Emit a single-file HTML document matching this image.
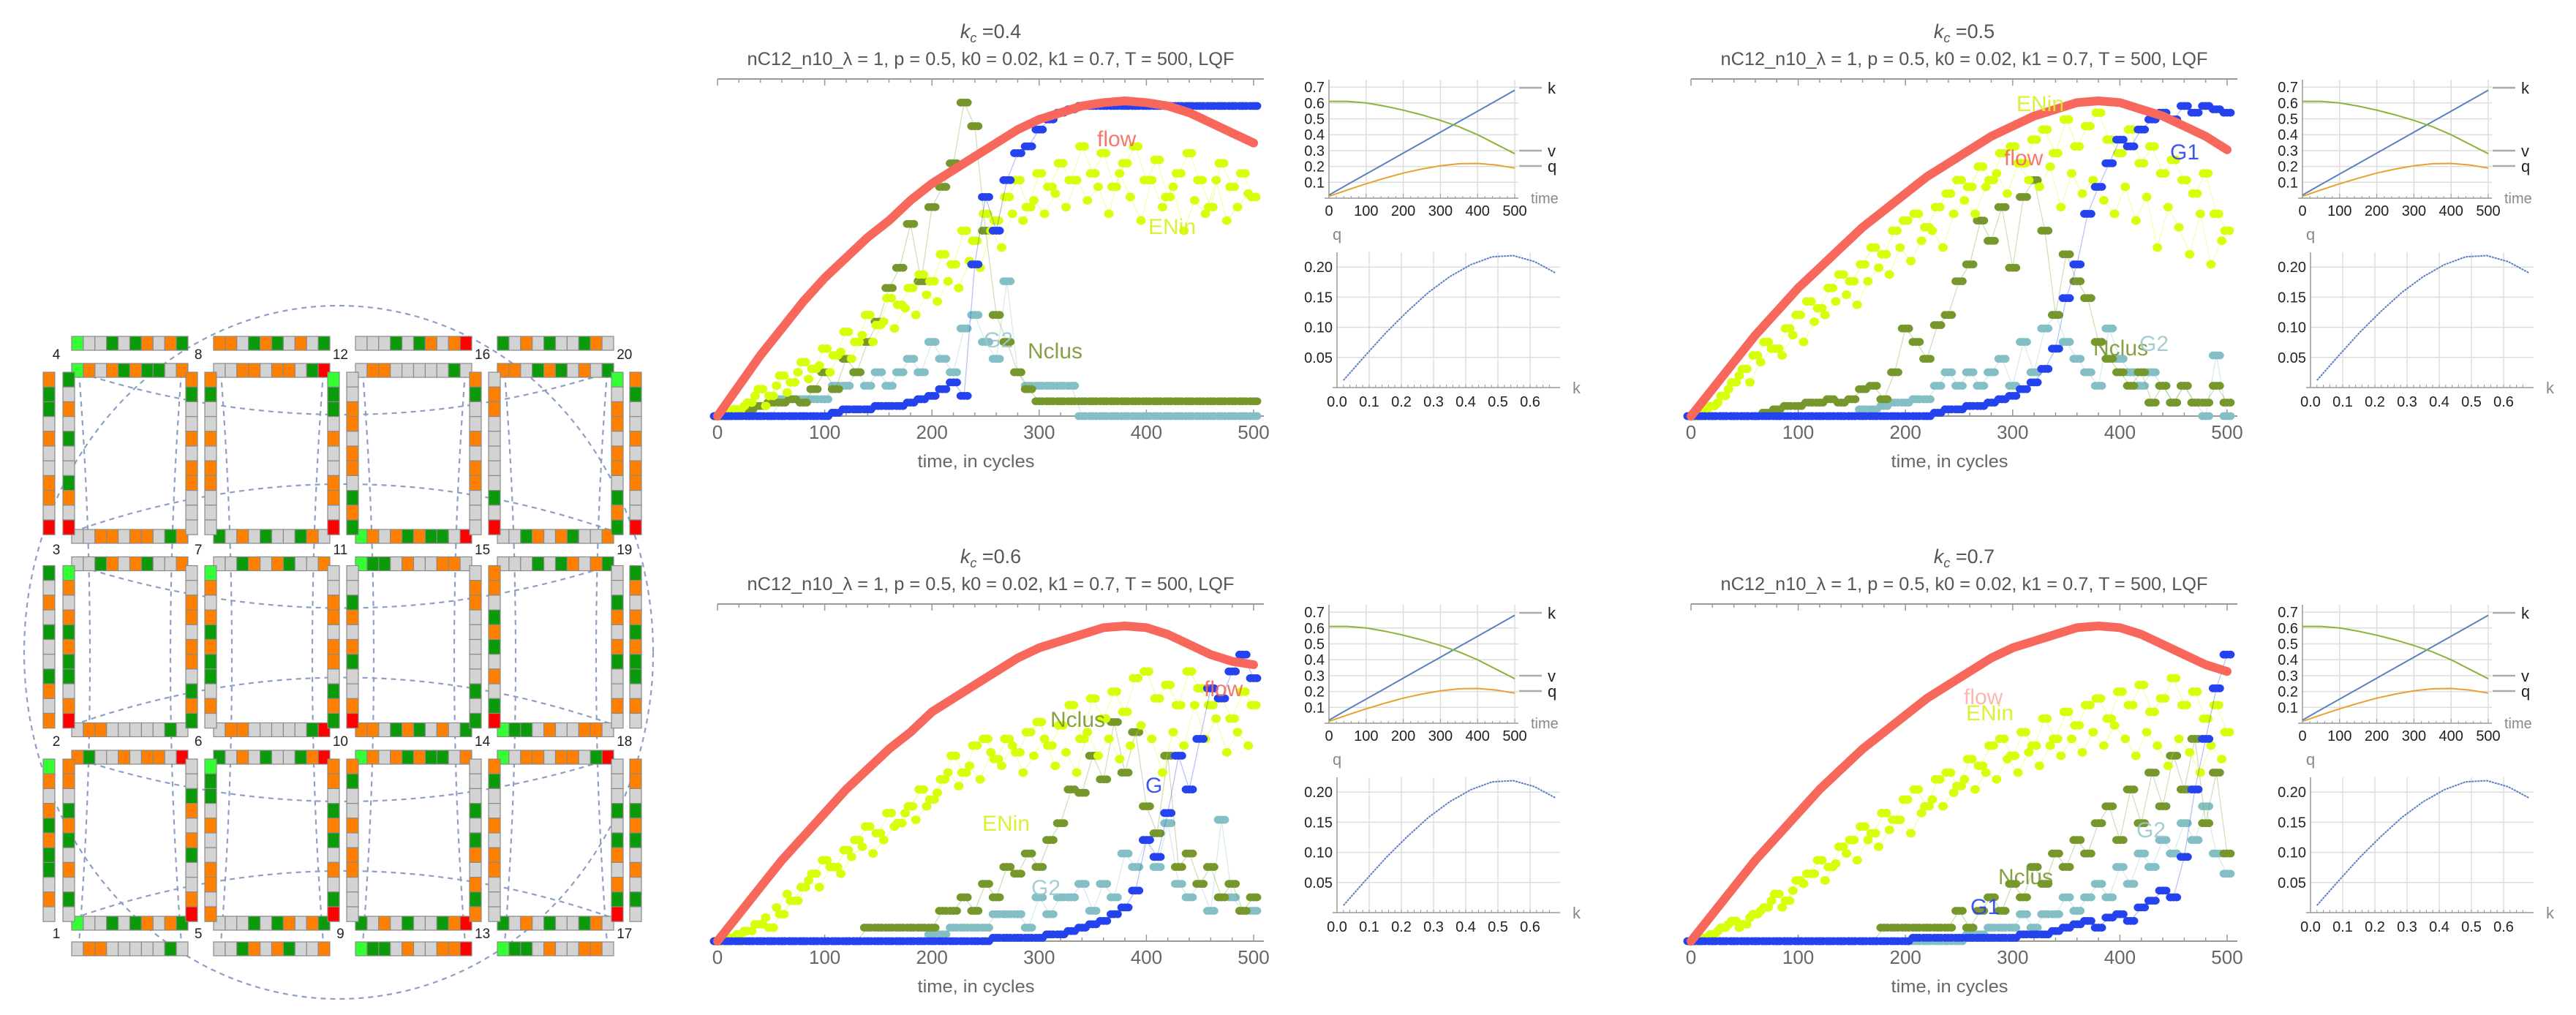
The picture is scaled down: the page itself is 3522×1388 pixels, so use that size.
<!DOCTYPE html>
<html><head><meta charset="utf-8">
<style>
html,body{margin:0;padding:0;background:#fff;}
svg{display:block;font-family:"Liberation Sans",sans-serif;}
</style></head>
<body>
<svg id="root" width="3522" height="1388" viewBox="0 0 3522 1388" xmlns="http://www.w3.org/2000/svg"></svg>
<script>
// ===== chart data (values in normalized plot-height units, t step 10 unless noted) =====
const timeTicks = [0,100,200,300,400,500];
const kcLabels = ["0.4","0.5","0.6","0.7"];
// flow (step 20)
const flow1 = [0,0.09,0.18,0.26,0.34,0.41,0.47,0.53,0.58,0.64,0.69,0.73,0.77,0.81,0.85,0.88,0.90,0.92,0.93,0.935,0.93,0.92,0.90,0.87,0.84,0.81];
const flow2 = [0,0.08,0.16,0.24,0.31,0.38,0.44,0.5,0.56,0.61,0.66,0.71,0.75,0.79,0.83,0.86,0.89,0.91,0.93,0.935,0.93,0.91,0.89,0.86,0.83,0.79];
const flow3 = [0,0.08,0.16,0.24,0.31,0.38,0.45,0.51,0.57,0.62,0.68,0.72,0.76,0.8,0.84,0.87,0.89,0.91,0.93,0.935,0.93,0.91,0.88,0.85,0.83,0.82];
const flow4 = [0,0.08,0.16,0.24,0.31,0.38,0.45,0.51,0.57,0.62,0.67,0.72,0.76,0.8,0.84,0.87,0.89,0.91,0.93,0.935,0.93,0.91,0.88,0.85,0.82,0.8];
// G1
const g1_1 = [0,0,0,0,0,0,0,0,0,0,0,0.01,0.02,0.02,0.02,0.03,0.03,0.03,0.04,0.05,0.06,0.08,0.1,0.06,0.45,0.65,0.55,0.7,0.78,0.8,0.85,0.88,0.9,0.91,0.92,0.92,0.92,0.92,0.92,0.92,0.92,0.92,0.92,0.92,0.92,0.92,0.92,0.92,0.92,0.92,0.92];
const g1_2 = [0,0,0,0,0,0,0,0,0,0,0,0,0,0,0,0,0,0,0,0,0,0,0,0.01,0.02,0.02,0.03,0.03,0.04,0.05,0.06,0.08,0.1,0.14,0.2,0.35,0.45,0.6,0.68,0.75,0.82,0.8,0.85,0.88,0.9,0.88,0.92,0.9,0.92,0.91,0.9];
const g1_3 = [0,0,0,0,0,0,0,0,0,0,0,0,0,0,0,0,0,0,0,0,0,0,0,0,0,0,0.01,0.01,0.01,0.01,0.01,0.02,0.02,0.03,0.04,0.05,0.06,0.08,0.1,0.15,0.3,0.25,0.38,0.55,0.45,0.6,0.75,0.72,0.8,0.85,0.78];
const g1_4 = [0,0,0,0,0,0,0,0,0,0,0,0,0,0,0,0,0,0,0,0,0,0.01,0.01,0.01,0.01,0.01,0.01,0.01,0.01,0.01,0.01,0.02,0.02,0.02,0.03,0.04,0.05,0.06,0.04,0.07,0.08,0.06,0.1,0.12,0.15,0.13,0.25,0.45,0.6,0.75,0.85];
// Nclus
const nclus1 = [0,0,0.01,0.02,0.03,0.04,0.04,0.05,0.04,0.08,0.13,0.08,0.17,0.13,0.22,0.28,0.38,0.44,0.57,0.4,0.62,0.68,0.75,0.93,0.86,0.55,0.3,0.22,0.13,0.08,0.044,0.044,0.044,0.044,0.044,0.044,0.044,0.044,0.044,0.044,0.044,0.044,0.044,0.044,0.044,0.044,0.044,0.044,0.044,0.044,0.044];
const nclus2 = [0,0,0,0,0,0,0,0.01,0.02,0.03,0.03,0.04,0.04,0.05,0.04,0.05,0.08,0.09,0.05,0.13,0.26,0.22,0.17,0.27,0.3,0.4,0.45,0.58,0.52,0.62,0.44,0.65,0.7,0.55,0.3,0.48,0.4,0.35,0.22,0.17,0.13,0.09,0.13,0.04,0.09,0.04,0.09,0.04,0.04,0.09,0.04];
const nclus3 = [0,0,0,0,0,0,0,0,0,0,0,0,0,0,0.04,0.04,0.04,0.04,0.04,0.04,0.04,0.09,0.09,0.13,0.09,0.17,0.13,0.22,0.2,0.26,0.22,0.3,0.35,0.45,0.44,0.55,0.48,0.65,0.5,0.62,0.4,0.32,0.55,0.22,0.26,0.17,0.22,0.13,0.17,0.09,0.13];
const nclus4 = [0,0,0,0,0,0,0,0,0,0,0,0,0,0,0,0,0,0,0.04,0.04,0.04,0.04,0.04,0.04,0.04,0.09,0.04,0.09,0.13,0.09,0.17,0.13,0.22,0.17,0.26,0.22,0.3,0.26,0.35,0.4,0.3,0.45,0.35,0.5,0.4,0.55,0.45,0.6,0.35,0.5,0.26];
// G2
const g2_1 = [0,0,0,0,0,0,0.05,0.05,0.05,0.05,0.05,0.09,0.09,0.13,0.09,0.13,0.09,0.13,0.17,0.13,0.22,0.17,0.13,0.26,0.3,0.22,0.17,0.4,0.13,0.09,0.09,0.09,0.09,0.09,0,0,0,0,0,0,0,0,0,0,0,0,0,0,0,0,0];
const g2_2 = [0,0,0,0,0,0,0,0,0,0,0,0,0,0,0,0,0.02,0.02,0.03,0.04,0.04,0.05,0.05,0.09,0.13,0.09,0.13,0.09,0.13,0.17,0.09,0.22,0.13,0.26,0.3,0.22,0.17,0.13,0.09,0.26,0.17,0.13,0.09,0.13,0.09,0.04,0.09,0.04,0,0.18,0];
const g2_3 = [0,0,0,0,0,0,0,0,0,0,0,0,0,0,0,0,0,0,0,0,0.02,0.02,0.04,0.04,0.04,0.04,0.08,0.08,0.08,0.04,0.13,0.08,0.13,0.13,0.17,0.09,0.17,0.13,0.26,0.22,0.3,0.22,0.35,0.17,0.13,0.17,0.09,0.36,0.13,0.09,0.09];
const g2_4 = [0,0,0,0,0,0,0,0,0,0,0,0,0,0,0,0,0,0,0,0,0,0,0,0,0,0,0.02,0.02,0.04,0.04,0.04,0.08,0.04,0.08,0.08,0.13,0.09,0.13,0.17,0.13,0.22,0.17,0.26,0.22,0.3,0.26,0.35,0.3,0.4,0.26,0.2];
// ENin (A at t=0,10..; B at t=5,15..)
const enA1 = [0,0.01,0.02,0.04,0.08,0.06,0.12,0.1,0.16,0.14,0.2,0.18,0.25,0.22,0.3,0.27,0.35,0.33,0.38,0.42,0.4,0.48,0.45,0.55,0.52,0.6,0.58,0.65,0.7,0.62,0.72,0.68,0.75,0.7,0.8,0.72,0.78,0.68,0.75,0.8,0.7,0.76,0.65,0.72,0.78,0.7,0.62,0.75,0.68,0.72,0.65];
const enB1 = [0,0.02,0.03,0.06,0.03,0.09,0.07,0.13,0.11,0.15,0.13,0.19,0.17,0.24,0.22,0.28,0.26,0.32,0.3,0.36,0.34,0.4,0.38,0.46,0.44,0.55,0.5,0.6,0.58,0.64,0.6,0.66,0.62,0.7,0.64,0.68,0.6,0.72,0.65,0.58,0.7,0.62,0.68,0.55,0.64,0.6,0.7,0.58,0.62,0.66];
const enA2 = [0,0.01,0.03,0.06,0.1,0.14,0.18,0.22,0.2,0.26,0.3,0.34,0.32,0.38,0.42,0.4,0.45,0.5,0.48,0.55,0.58,0.6,0.56,0.62,0.66,0.7,0.68,0.74,0.7,0.78,0.8,0.75,0.82,0.85,0.78,0.88,0.8,0.86,0.9,0.82,0.78,0.85,0.75,0.8,0.72,0.76,0.7,0.66,0.72,0.6,0.55];
const enB2 = [0,0.02,0.04,0.08,0.12,0.1,0.16,0.2,0.18,0.24,0.22,0.28,0.3,0.34,0.36,0.33,0.4,0.44,0.42,0.5,0.46,0.52,0.55,0.5,0.6,0.64,0.6,0.68,0.72,0.66,0.75,0.7,0.68,0.74,0.62,0.72,0.66,0.7,0.64,0.6,0.68,0.58,0.65,0.5,0.62,0.56,0.48,0.6,0.45,0.52];
const enA3 = [0,0.01,0.02,0.03,0.05,0.04,0.08,0.12,0.16,0.2,0.24,0.22,0.27,0.3,0.34,0.32,0.38,0.35,0.4,0.45,0.42,0.48,0.55,0.5,0.58,0.6,0.54,0.6,0.56,0.62,0.65,0.58,0.64,0.7,0.6,0.72,0.66,0.74,0.68,0.78,0.8,0.72,0.76,0.7,0.8,0.75,0.7,0.72,0.66,0.74,0.7];
const enB3 = [0,0.01,0.03,0.05,0.07,0.1,0.14,0.12,0.18,0.16,0.22,0.2,0.25,0.28,0.26,0.3,0.34,0.38,0.36,0.4,0.44,0.5,0.46,0.52,0.48,0.56,0.52,0.58,0.5,0.55,0.6,0.52,0.56,0.5,0.62,0.55,0.6,0.54,0.58,0.64,0.6,0.5,0.62,0.58,0.7,0.6,0.66,0.56,0.62,0.58];
const enA4 = [0,0.01,0.02,0.04,0.06,0.05,0.08,0.1,0.14,0.12,0.18,0.2,0.24,0.22,0.28,0.3,0.34,0.32,0.38,0.36,0.42,0.45,0.4,0.48,0.5,0.46,0.54,0.52,0.58,0.6,0.55,0.62,0.58,0.66,0.6,0.68,0.64,0.7,0.72,0.66,0.74,0.7,0.76,0.68,0.72,0.78,0.7,0.74,0.66,0.7,0.62];
const enB4 = [0,0.01,0.03,0.05,0.04,0.07,0.09,0.12,0.1,0.15,0.17,0.2,0.18,0.23,0.26,0.24,0.3,0.28,0.33,0.36,0.32,0.38,0.42,0.4,0.44,0.48,0.45,0.5,0.48,0.54,0.5,0.56,0.52,0.58,0.55,0.6,0.56,0.62,0.58,0.64,0.6,0.55,0.62,0.58,0.52,0.6,0.56,0.5,0.58,0.54];
// small charts (t step 50)
const kVals = [0.02,0.086,0.152,0.218,0.284,0.35,0.416,0.482,0.548,0.614,0.68];
const vVals = [0.61,0.61,0.60,0.58,0.555,0.525,0.49,0.45,0.40,0.34,0.28];
const qVals = [0.012,0.052,0.091,0.126,0.158,0.184,0.204,0.217,0.219,0.209,0.19];
const smallYTicks = [0.1,0.2,0.3,0.4,0.5,0.6,0.7];
const qTicks = [0.05,0.10,0.15,0.20];
const kTicks = [0.0,0.1,0.2,0.3,0.4,0.5,0.6];

const NS = "http://www.w3.org/2000/svg";
const root = document.getElementById('root');
function mk(tag, attrs, parent, text){
  const e = document.createElementNS(NS, tag);
  for (const k in attrs) e.setAttribute(k, attrs[k]);
  if (text !== undefined) e.textContent = text;
  (parent||root).appendChild(e);
  return e;
}

// ================= left grid diagram =================
const gridG = mk('g', {});


const dash = {fill:'none', stroke:'#8d9fc4', 'stroke-width':2.2, 'stroke-dasharray':'7 6'};
mk('ellipse', Object.assign({cx:463, cy:892, rx:430, ry:474}, dash), gridG);
for (let r=0;r<3;r++){
  const y0 = 497 + 264.5*r;
  mk('path', Object.assign({d:`M100 ${y0+10} Q 470 ${y0+130} 840 ${y0+10}`}, dash), gridG);
  mk('path', Object.assign({d:`M100 ${y0+230} Q 470 ${y0+100} 840 ${y0+230}`}, dash), gridG);
}
for (let c=0;c<4;c++){
  const x0 = 98 + 194*c;
  mk('path', Object.assign({d:`M${x0+10} ${510} Q ${x0+40} 900 ${x0+10} 1290`}, dash), gridG);
  mk('path', Object.assign({d:`M${x0+150} ${510} Q ${x0+120} 900 ${x0+150} 1290`}, dash), gridG);
}
const pal = ['#d3d3d3','#d3d3d3','#0a9a0a','#ff8000','#d3d3d3','#ff8000','#0a9a0a','#d3d3d3','#ff8000'];
let stripId = 0;
function strip(x, y, n, horiz, cw, ch){
  stripId++;
  const g = mk('g', {}, gridG);
  
  
  for (let k=0;k<n;k++){
    let col = pal[(stripId*37 + k*11 + (k*k)%5 + stripId%7) % 9];
    if (k===n-1 && stripId%3===0) col = '#ff0000';
    if (k===0 && stripId%4===1) col = '#33ff33';
    const cx = horiz ? x + k*cw : x, cy = horiz ? y : y + k*ch;
    mk('rect', {x:cx, y:cy, width:cw, height:ch, fill:col, stroke:'#8a8a8a', 'stroke-width':1.2}, g);
  }
}
for (let c=0;c<4;c++){
  for (let r=0;r<3;r++){
    const x0 = 98 + 194*c, y0 = 497 + 264.5*r;
    strip(x0, y0, 10, true, 15.9, 19);
    strip(x0, y0+227, 10, true, 15.9, 19);
    strip(x0-12, y0+12, 11, false, 16, 20.2);
    strip(x0+156, y0+12, 11, false, 16, 20.2);
    if (r===0) strip(x0, 460, 10, true, 15.9, 19);
    if (r===2) strip(x0, 1288, 10, true, 15.9, 19);
    if (c===0) strip(59, y0+12, 11, false, 16, 20.2);
    if (c===3) strip(861, y0+12, 11, false, 16, 20.2);
  }
}
const nodeYs = [484, 751, 1013, 1276];
for (let c=0;c<5;c++){
  for (let r=0;r<4;r++){
    const t = mk('text', {x:77+194.2*c, y:nodeYs[r]+7, 'font-size':19, 'text-anchor':'middle', fill:'#222'}, gridG, String(c*4 + (4-r)));
    
    
  }
}

// ================= panels =================
const panels = [
  {flow:flow1, g1:g1_1, nclus:nclus1, g2:g2_1, enA:enA1, enB:enB1,
   labels:[['flow',1500,200,'#f8675c'],['ENin',1570,320,'#d8f020'],['Nclus',1405,490,'#78972e'],['G2',1345,475,'#9cc8cc']]},
  {flow:flow2, g1:g1_2, nclus:nclus2, g2:g2_2, enA:enA2, enB:enB2,
   labels:[['ENin',2757,152,'#d8f020'],['flow',2740,226,'#f8675c'],['G1',2967,218,'#2a45e8'],['Nclus',2862,486,'#78972e'],['G2',2925,480,'#9cc8cc']]},
  {flow:flow3, g1:g1_3, nclus:nclus3, g2:g2_3, enA:enA3, enB:enB3,
   labels:[['Nclus',1436,994,'#78972e'],['ENin',1343,1136,'#d8f020'],['G2',1410,1224,'#9cc8cc'],['G',1566,1084,'#2a45e8'],['flow',1646,952,'#f8675c']]},
  {flow:flow4, g1:g1_4, nclus:nclus4, g2:g2_4, enA:enA4, enB:enB4,
   labels:[['flow',2685,963,'#f9b0aa'],['ENin',2688,985,'#d8f020'],['Nclus',2732,1209,'#78972e'],['G1',2694,1250,'#2a45e8'],['G2',2921,1145,'#9cc8cc']]}
];

function drawPanel(p, idx){
  const dx = 1331*(idx%2), dy = 718*Math.floor(idx/2);
  const g = mk('g', {});
  
  
  const X0 = 981+dx, X1 = 1714+dx, FR = 1728+dx, Ytop = 108+dy, Ybase = 569+dy;
  const xs = t => X0 + t*(X1-X0)/500;
  const ys = v => Ybase - v*461;
  const cx = (X0+FR)/2;
  const tt = mk('text', {x:cx, y:52+dy, 'font-size':27, 'text-anchor':'middle', fill:'#555'}, g);
  
  
  mk('tspan', {'font-style':'italic'}, tt, 'k');
  mk('tspan', {'font-size':18, 'font-style':'italic', dy:6}, tt, 'c');
  mk('tspan', {dy:-6}, tt, ' =' + kcLabels[idx]);
  const st = mk('text', {x:cx, y:89+dy, 'font-size':25, 'text-anchor':'middle', fill:'#555', textLength:666, lengthAdjust:'spacingAndGlyphs'}, g, 'nC12_n10_λ = 1, p = 0.5, k0 = 0.02, k1 = 0.7, T = 500, LQF');
  
  
  mk('line', {x1:X0, y1:Ytop, x2:FR, y2:Ytop, stroke:'#999', 'stroke-width':2}, g);
  const ax = mk('line', {x1:X0, y1:Ybase, x2:FR, y2:Ybase, stroke:'#999', 'stroke-width':2}, g);
  
  
  for (let t=0;t<=500;t+=20){
    const major = t%100===0;
    mk('line', {x1:xs(t), y1:Ytop, x2:xs(t), y2:Ytop+(major?9:5), stroke:'#999', 'stroke-width':1.5}, g);
    mk('line', {x1:xs(t), y1:Ybase, x2:xs(t), y2:Ybase-(major?9:5), stroke:'#999', 'stroke-width':1.5}, g);
  }
  timeTicks.forEach(t=>{
    const l = mk('text', {x:xs(t), y:Ybase+31, 'font-size':26, 'text-anchor':'middle', fill:'#666'}, g, String(t));
    
    
  });
  const at = mk('text', {x:cx-20, y:Ybase+70, 'font-size':24, 'text-anchor':'middle', fill:'#666', textLength:160, lengthAdjust:'spacingAndGlyphs'}, g, 'time, in cycles');
  
  

  function series(arr, step, off, color, name, r, spread){
    const sg = mk('g', {}, g);
    
    
    let d = '';
    arr.forEach((v,i)=>{ d += (i?'L':'M') + xs(off+i*step).toFixed(1) + ' ' + ys(v).toFixed(1); });
    mk('path', {d:d, fill:'none', stroke:color, 'stroke-width':1.2, opacity:0.35}, sg);
    arr.forEach((v,i)=>{
      spread.forEach(s=>{
        const c = mk('ellipse', {cx:xs(off+i*step+s), cy:ys(v), rx:r, ry:r*0.9, fill:color}, sg);
        
        
      });
    });
  }
  series(p.g2, 10, 0, '#83bfc4', 'g2-series', 6, [-3,0,3]);
  series(p.nclus, 10, 0, '#76972c', 'nclus-series', 6, [-3,0,3]);
  series(p.enA, 10, 0, '#d6ff0a', 'enin-series', 6.5, [-2,2]);
  series(p.enB, 10, 5, '#d6ff0a', 'enin-series-b', 6.5, [0]);
  series(p.g1, 10, 0, '#2443ee', 'g1-series', 6, [-3,0,3]);
  const fg = mk('g', {}, g);
  
  
  let fd = '';
  p.flow.forEach((v,i)=>{ fd += (i?'L':'M') + xs(i*20).toFixed(1) + ' ' + ys(v).toFixed(1); });
  mk('path', {d:fd, fill:'none', stroke:'#f8675c', 'stroke-width':12, 'stroke-linecap':'round', 'stroke-linejoin':'round'}, fg);
  p.labels.forEach(l=>{
    const t = mk('text', {x:l[1], y:l[2], 'font-size':30, fill:l[3], opacity:0.9}, g, l[0]);
    
    
  });

  // ---- small time chart ----
  const sx0 = 1817+dx, sx1 = 2071+dx, sy0 = 271+dy;
  const sxs = t => sx0 + t*(sx1-sx0)/500;
  const sys = v => sy0 - v*217;
  const tg = mk('g', {}, g);
  
  
  smallYTicks.forEach(v=>{
    mk('line', {x1:sx0, y1:sys(v), x2:2076+dx, y2:sys(v), stroke:'#ddd', 'stroke-width':1.5}, tg);
    mk('text', {x:sx0-6, y:sys(v)+7, 'font-size':20, 'text-anchor':'end', fill:'#222'}, tg, v.toFixed(1));
  });
  timeTicks.forEach(t=>{
    if (t>0) mk('line', {x1:sxs(t), y1:109+dy, x2:sxs(t), y2:sy0, stroke:'#ddd', 'stroke-width':1.5}, tg);
    mk('text', {x:sxs(t), y:sy0+24, 'font-size':20, 'text-anchor':'middle', fill:'#222'}, tg, String(t));
  });
  mk('line', {x1:sx0, y1:109+dy, x2:sx0, y2:sy0, stroke:'#999', 'stroke-width':1.5}, tg);
  mk('line', {x1:1811+dx, y1:sy0, x2:2076+dx, y2:sy0, stroke:'#999', 'stroke-width':1.5}, tg);
  for (let t=0;t<=500;t+=20) mk('line', {x1:sxs(t), y1:sy0, x2:sxs(t), y2:sy0-(t%100===0?6:3), stroke:'#999', 'stroke-width':1}, tg);
  function sline(arr, color, name){
    let d=''; arr.forEach((v,i)=>{ d += (i?'L':'M') + sxs(i*50).toFixed(1) + ' ' + sys(v).toFixed(1); });
    const pth = mk('path', {d:d, fill:'none', stroke:color, 'stroke-width':2}, tg);
    
    
  }
  sline(kVals, '#5b80c0', 'k-line');
  sline(vVals, '#8db43a', 'v-line');
  sline(qVals, '#e8a030', 'q-line');
  [['k',124],['v',210],['q',231]].forEach(e=>{
    mk('line', {x1:2077+dx, y1:e[1]-4+dy, x2:2108+dx, y2:e[1]-4+dy, stroke:'#aaa', 'stroke-width':2.5}, tg);
    const lt = mk('text', {x:2116+dx, y:e[1]+4+dy, 'font-size':22, fill:'#222'}, tg, e[0]);
    
    
  });
  mk('text', {x:2093+dx, y:278+dy, 'font-size':20, fill:'#888'}, tg, 'time');

  // ---- small q-k chart ----
  const qx0 = 1828+dx, qy0 = 530+dy;
  const qxs = k => qx0 + k*440;
  const qys = q => qy0 - q*824;
  const qg = mk('g', {}, g);
  
  
  qTicks.forEach(q=>{
    mk('line', {x1:qx0, y1:qys(q), x2:2133+dx, y2:qys(q), stroke:'#ddd', 'stroke-width':1.5}, qg);
    mk('text', {x:qx0-6, y:qys(q)+7, 'font-size':20, 'text-anchor':'end', fill:'#222'}, qg, q.toFixed(2));
  });
  kTicks.forEach(k=>{
    if (k>0) mk('line', {x1:qxs(k), y1:345+dy, x2:qxs(k), y2:qy0, stroke:'#ddd', 'stroke-width':1.5}, qg);
    mk('text', {x:qxs(k), y:qy0+26, 'font-size':20, 'text-anchor':'middle', fill:'#222'}, qg, k.toFixed(1));
  });
  mk('line', {x1:qx0, y1:345+dy, x2:qx0, y2:qy0, stroke:'#999', 'stroke-width':1.5}, qg);
  mk('line', {x1:qx0-6, y1:qy0, x2:2133+dx, y2:qy0, stroke:'#999', 'stroke-width':1.5}, qg);
  for (let k=0;k<=0.68;k+=0.02) mk('line', {x1:qxs(k), y1:qy0, x2:qxs(k), y2:qy0-4, stroke:'#999', 'stroke-width':1}, qg);
  let qd=''; kVals.forEach((k,i)=>{ qd += (i?'L':'M') + qxs(k).toFixed(1) + ' ' + qys(qVals[i]).toFixed(1); });
  const qp = mk('path', {d:qd, fill:'none', stroke:'#5b80c0', 'stroke-width':2, 'stroke-dasharray':'3 1'}, qg);
  
  
  mk('text', {x:1822+dx, y:328+dy, 'font-size':22, fill:'#888'}, qg, 'q');
  mk('text', {x:2150+dx, y:538+dy, 'font-size':22, fill:'#888'}, qg, 'k');
}
panels.forEach(drawPanel);
</script>
</body></html>
